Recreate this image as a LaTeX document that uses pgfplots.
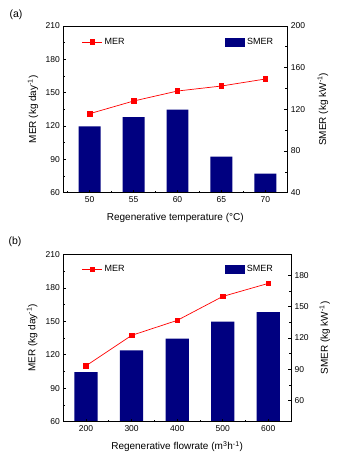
\documentclass[border=0pt]{standalone}
\usepackage{fontspec}
\setmainfont{Liberation Sans}
\usepackage{pgfplots}
\pgfplotsset{compat=1.18}
\definecolor{barblue}{RGB}{0,0,128}
\pgfplotsset{
  base/.style={
    scale only axis, tick align=inside,
    major tick length=3pt, minor tick length=2pt,
    axis line style={line width=0.9pt},
    every tick/.style={black, line width=0.7pt},
    ticklabel style={font=\fontsize{8.5}{10}\selectfont},
    label style={font=\fontsize{10}{12}\selectfont},
    /pgf/number format/assume math mode=true,
    legend style={draw=none, fill=none, inner sep=0pt, outer sep=0pt,
      font=\fontsize{9}{11}\selectfont, anchor=west},
  },
  merleg/.style={legend image code/.code={
      \draw[##1] (0pt,0pt) -- (20pt,0pt);
      \draw[##1, mark repeat=2, mark phase=2] plot coordinates {(0pt,0pt) (10pt,0pt) (20pt,0pt)};}},
  smerleg/.style={legend image code/.code={
      \fill[barblue] (0pt,-4.5pt) rectangle (20pt,4.5pt);}},
}
\begin{document}
\begin{tikzpicture}
\path[use as bounding box] (0,0) rectangle (350pt,-458pt);
\node[font=\fontsize{10.5}{12}\selectfont] at (16pt,-15pt) {(a)};
\node[font=\fontsize{10.5}{12}\selectfont] at (15pt,-241.5pt) {(b)};

% ---------- panel (a) ----------
\begin{axis}[base, at={(63.3pt,-192.7pt)}, anchor=south west,
  width=224pt, height=166.7pt, xmin=-0.6, xmax=4.5,
  ymin=40, ymax=200, ytick={40,80,...,200}, minor y tick num=1,
  axis y line*=right, axis x line=none,
  ylabel={SMER (kg kW\textsuperscript{-1})},
  ylabel style={at={(axis description cs:1.159,0.5)}, anchor=center},
  smerleg, legend style={at={(axis description cs:0.722,0.904)}}]
\addplot[ybar, bar width=0.5, fill=barblue, draw=none]
  coordinates {(0,103.7) (1,112.6) (2,119.7) (3,74.6) (4,58.2)};
\addlegendentry{SMER}
\end{axis}
\begin{axis}[base, at={(63.3pt,-192.7pt)}, anchor=south west,
  width=224pt, height=166.7pt, xmin=-0.6, xmax=4.5,
  ymin=60, ymax=210, ytick={60,90,...,210}, minor y tick num=1,
  ytick pos=left, xtick pos=bottom,
  xtick={0,1,2,3,4}, xticklabels={50,55,60,65,70},
  minor xtick={-0.5,0.5,1.5,2.5,3.5,4.5},
  xlabel={Regenerative temperature (°C)},
  xlabel style={at={(axis description cs:0.5,-0.152)}, anchor=center},
  ylabel={MER (kg day\textsuperscript{-1})},
  ylabel style={at={(axis description cs:-0.135,0.5)}, anchor=center},
  merleg, legend style={at={(axis description cs:0.083,0.904)}}]
\addplot[red, line width=0.7pt, mark=square*, mark size=2.3pt, mark options={fill=red}]
  coordinates {(0,131.1) (1,142.5) (2,151.5) (3,156) (4,162.3)};
\addlegendentry{MER}
\end{axis}

% ---------- panel (b) ----------
\begin{axis}[base, at={(63.3pt,-421.7pt)}, anchor=south west,
  width=227.7pt, height=167.3pt, xmin=-0.5, xmax=4.5,
  ymin=40, ymax=200, ytick={60,90,...,180}, minor y tick num=1,
  axis y line*=right, axis x line=none,
  ylabel={SMER (kg kW\textsuperscript{-1})},
  ylabel style={at={(axis description cs:1.148,0.5)}, anchor=center},
  smerleg, legend style={at={(axis description cs:0.71,0.911)}}]
\addplot[ybar, bar width=0.51, fill=barblue, draw=none]
  coordinates {(0,87.5) (1,108.2) (2,119.4) (3,135.6) (4,144.9)};
\addlegendentry{SMER}
\end{axis}
\begin{axis}[base, at={(63.3pt,-421.7pt)}, anchor=south west,
  width=227.7pt, height=167.3pt, xmin=-0.5, xmax=4.5,
  ymin=60, ymax=210, ytick={60,90,...,210}, minor y tick num=1,
  ytick pos=left, xtick pos=bottom,
  xtick={0,1,2,3,4}, xticklabels={200,300,400,500,600},
  minor xtick={-0.5,0.5,1.5,2.5,3.5,4.5},
  xlabel={Regenerative flowrate (m\textsuperscript{3}h\textsuperscript{-1})},
  xlabel style={at={(axis description cs:0.5,-0.149)}, anchor=center},
  ylabel={MER (kg day\textsuperscript{-1})},
  ylabel style={at={(axis description cs:-0.137,0.5)}, anchor=center},
  merleg, legend style={at={(axis description cs:0.082,0.911)}}]
\addplot[red, line width=0.7pt, mark=square*, mark size=2.3pt, mark options={fill=red}]
  coordinates {(0,110.2) (1,137.4) (2,150.8) (3,172.3) (4,184)};
\addlegendentry{MER}
\end{axis}
\end{tikzpicture}
\end{document}
